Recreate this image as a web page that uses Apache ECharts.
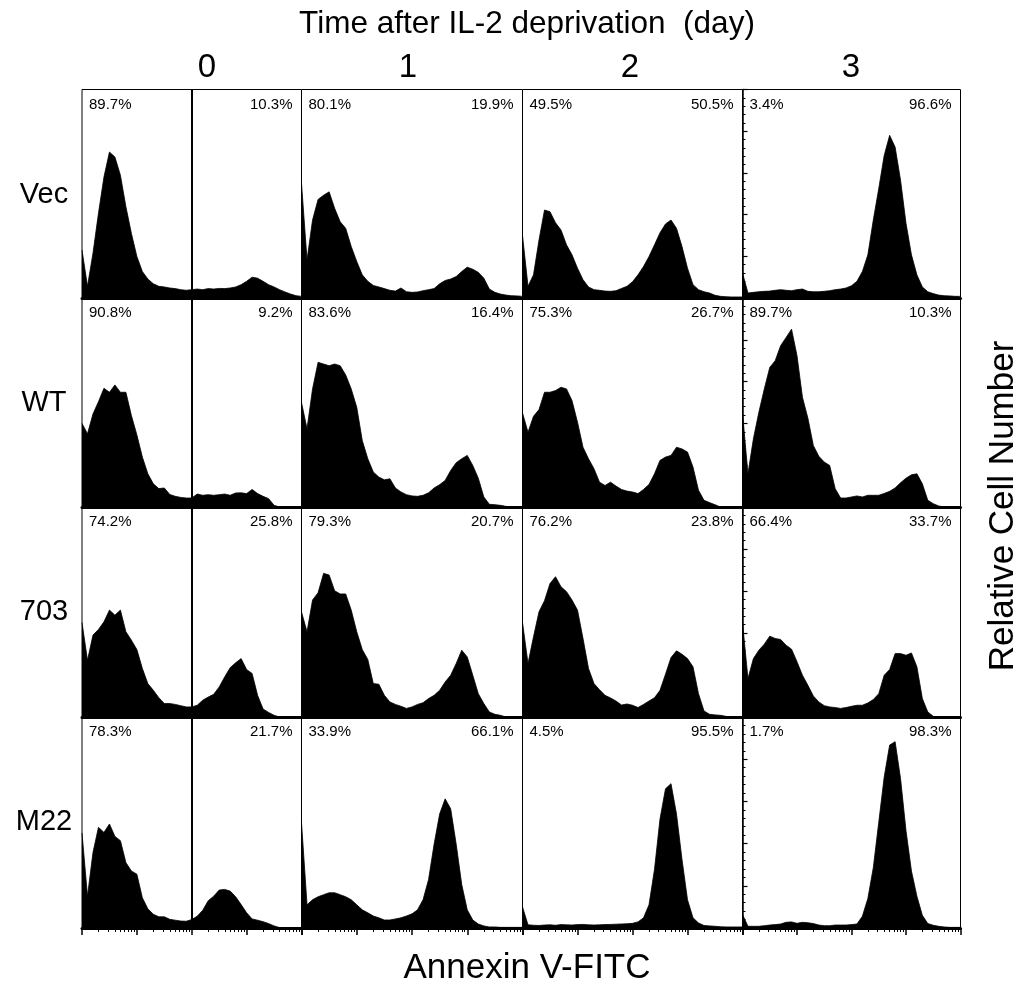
<!DOCTYPE html>
<html><head><meta charset="utf-8">
<script src="https://cdn.jsdelivr.net/npm/echarts@6/dist/echarts.min.js"></script>
<style>html,body{margin:0;padding:0;background:#fff}#c{width:1027px;height:994px}</style>
</head><body><div id="c"></div>
<script>
// ---- data (relative cell number, % of panel height), bins of 0.1 log10 decade from 10^0 to 10^4 ----
const rowNames = ['Vec', 'WT', '703', 'M22'];
const dayLabels = ['0', '1', '2', '3'];
const binStep = 0.1;

const vec0 = [23,5.6,21.5,40.6,58,70,67.6,58.9,43.8,31,19.9,12.7,9.1,6.8,5.6,5.3,4.8,4.5,4.0,3.7,4.0,4.3,4.0,4.5,4.3,4.6,4.5,4.8,5.3,6.4,8.0,10.0,9.5,8.0,6.4,5.3,4.0,2.9,1.9,1.1,0.8];
const vec1 = [55,18.3,37.4,47.3,49.3,50.9,43,36.6,33.4,24.7,17.5,11.1,8,6,5.3,4.5,3.7,3.3,4.8,3.0,2.7,2.9,3.5,4.0,4.5,6.8,8.4,9.1,10.3,12.7,14.8,13.8,12.3,9.5,4.3,2.7,1.9,1.4,1.1,1.0,0.8];
const vec2 = [30,5.6,11.1,27.8,42.2,41.4,36.1,32.6,25.5,20.7,14.3,8.8,5.3,4.0,3.7,3.3,3.2,3.5,4.6,5.6,7.8,11.1,15.1,19.9,25.5,31.3,35.5,37.4,33.4,24.7,14.3,6.4,4.0,3.0,2.4,1.3,0.8,0.6,0.5,0.5,0.5];
const vec3 = [12,2.4,2.7,3.0,3.2,3.3,3.7,4.0,3.7,3.5,4.0,4.3,3.2,3.0,3.0,3.2,3.5,4.0,4.3,4.8,5.9,8.0,12.7,20.7,37.4,52.5,68.4,78,72.4,56.5,35.8,20.7,11.1,5.3,3.0,2.1,1.4,1.1,1.0,0.8,0.8];

const wt0 = [40,35,44.5,50.4,56.8,54.9,58.4,54.9,54.9,43.8,34.5,23.9,15.9,11.1,8.8,9.1,6.0,5.1,4.6,4.3,4.3,6.2,5.6,5.9,5.6,5.9,6.2,5.6,6.7,6.8,6.4,8.4,6.4,5.1,4.0,0.8,0,0,0,0,0];
const wt1 = [50,37.4,56.5,69.2,68.4,67.6,68.4,67.6,63.2,56.5,47.7,31.8,23.1,16.7,14.3,13,13.5,9.1,7.2,5.9,5.3,5.1,5.6,6.8,9.1,10.7,12.7,17.5,21.2,23.1,24.7,19.9,13.8,4.8,1.3,1.1,0.8,0.3,0,0,0];
const wt2 = [45,35.8,43.4,46.6,54.9,54.9,55.7,57.3,56.5,50.9,40.6,28.6,23.1,18.3,11.9,10.3,11.9,10.0,8.4,7.6,7.2,6.4,8.4,10.8,15.9,22.3,23.9,24.7,28.6,27.8,26.3,19.1,8,3.2,2.1,1.1,0,0,0,0,0];
const wt3 = [45,15.9,32.6,45.3,56.5,66.8,70,77.2,81.1,85.1,72.4,52.5,42.5,29.4,24.3,21.5,19.9,8.8,4.3,4.3,4.8,5.3,4.8,5.6,5.6,5.6,6.5,7.5,9.1,11.6,13.8,15.4,15.9,11.1,3.2,1.6,0.5,0,0,0,0];

const m703_0 = [45,27,39,41.7,45.3,50.9,48.5,50.9,40.6,36.6,32.1,23.1,15.9,12.7,9.2,6.4,6.4,6.0,5.4,4.8,4.8,5.6,8.0,9.5,10.8,14.3,19.1,23.5,25.8,27.8,22.6,20.7,10.3,3.8,2.2,0.8,0,0,0,0,0];
const m703_1 = [50,40.6,55.7,59.2,68.4,67.6,60.1,58.6,58.6,50.9,40.6,32.1,27.4,15.9,15.6,10.3,7.2,6.0,5.1,4.1,4.8,6.0,6.8,8.8,10.3,12.7,16.7,19.9,25.5,31.8,28.6,19.9,11.1,6.4,2.4,1.3,0.8,0,0,0,0];
const m703_2 = [45,25.5,38.2,50.1,55.4,63.6,66.8,62,59.7,55.7,50.9,37.4,23.1,15.9,13,10.3,9.1,7.6,5.7,6.2,5.6,4.5,6.0,7.6,9.2,12.7,20.4,28.3,31.5,29.9,27.8,23.9,11.1,2.9,1.3,1.0,0.8,0.3,0,0,0];
const m703_3 = [45,18.3,27.8,31.8,34.7,38.5,37.4,36.9,34.2,32.3,26.3,19.9,15.1,10.0,7.2,5.4,4.8,4.5,4.1,4.5,5.1,5.6,5.6,6.7,8.3,11.1,19.9,22.6,30.2,30.2,29.4,30.5,23.9,8.8,2.4,0.3,0,0,0,0,0];

const m22_0 = [45,15.1,35.8,47.7,45.3,49.3,43.4,41.4,31,27,25.5,14.3,9.1,6.5,5.3,5.3,4.1,3.7,3.3,3.2,4.0,5.6,8.4,12.9,15.1,18,18.3,17.5,14.8,11.1,7.2,4.3,3.7,3.0,2.1,1.0,0.2,0,0,0,0];
const m22_1 = [50,11,13.4,14.8,15.8,16.7,16.7,15.8,14.8,13.4,11,8.6,7.2,5.7,4.8,3.8,3.8,4.3,4.8,5.7,6.7,8.6,13.4,23,39.7,54,61.2,56.5,39.7,20.6,8.6,3.8,1.9,1,0.5,0.5,0.3,0.3,0.3,0.3,0.3];
const m22_2 = [10,1.5,1.3,1.2,1.4,1.5,1.3,1.6,1.5,1.4,1.6,1.7,1.5,1.4,1.5,1.6,1.7,1.8,1.9,2.0,2.2,2.9,4.8,11,27.8,51.7,66,68.4,54,32.5,13.4,4.8,2.4,1.2,1,0.8,0.6,0.5,0.5,0.5,0.5];
const m22_3 = [6.4,0.8,0.8,0.8,1.1,1.4,1.6,1.9,2.7,2.9,2.2,2.7,2.5,2.1,1.4,1.1,1.1,1.4,1.4,1.4,1.6,1.9,5.6,14,28.6,50.1,71.6,86.7,88.3,70.8,46.1,27,15.1,6.0,2.1,1.3,0.8,0.5,0.3,0.3,0.3];

const histograms = [
  [vec0, vec1, vec2, vec3],
  [wt0, wt1, wt2, wt3],
  [m703_0, m703_1, m703_2, m703_3],
  [m22_0, m22_1, m22_2, m22_3]
];

const leftPct = [
  ['89.7%', '80.1%', '49.5%', '3.4%'],
  ['90.8%', '83.6%', '75.3%', '89.7%'],
  ['74.2%', '79.3%', '76.2%', '66.4%'],
  ['78.3%', '33.9%', '4.5%', '1.7%']
];
const rightPct = [
  ['10.3%', '19.9%', '50.5%', '96.6%'],
  ['9.2%', '16.4%', '26.7%', '10.3%'],
  ['25.8%', '20.7%', '23.8%', '33.7%'],
  ['21.7%', '66.1%', '95.5%', '98.3%']
];
const gateDecade = 2;          // marker gate on day-0 panels
const majorTickValues = [0, 1, 2, 3, 4];

// ---- layout ----
const colLeft = [82, 301.5, 522.5, 742.5];
const colWidth = [219.5, 221, 220, 218];
const rowTop = [89.5, 298, 507, 717];
const rowHeight = [208.5, 209, 210, 211];
const FONT = "'Liberation Sans', Arial, Helvetica, sans-serif";

const minorTickValues = [];
for (let k = 0; k < 4; k++) for (let m = 2; m <= 9; m++) minorTickValues.push(k + Math.log10(m));

const grids = [], xAxes = [], yAxes = [], series = [], graphics = [];
let gi = 0;
for (let r = 0; r < 4; r++) {
  for (let c = 0; c < 4; c++) {
    grids.push({ left: colLeft[c], top: rowTop[r], width: colWidth[c], height: rowHeight[r],
      show: true, borderColor: '#000', borderWidth: 1, backgroundColor: '#fff', containLabel: false });
    const xi = xAxes.length;
    xAxes.push({ gridIndex: gi, type: 'value', min: 0, max: 4, position: 'bottom',
      axisLine: { show: true, onZero: false, lineStyle: { color: '#000', width: 3 } },
      axisTick: { show: r === 3, customValues: majorTickValues, length: 7, lineStyle: { color: '#000', width: 1.5 } },
      axisLabel: { show: false }, splitLine: { show: false } });
    if (r === 3) {
      xAxes.push({ gridIndex: gi, type: 'value', min: 0, max: 4, position: 'bottom',
        axisLine: { show: false },
        axisTick: { show: true, customValues: minorTickValues, length: 4, lineStyle: { color: '#000', width: 1 } },
        axisLabel: { show: false }, splitLine: { show: false } });
    }
    yAxes.push({ gridIndex: gi, type: 'value', min: 0, max: 100, interval: 20,
      position: c === 3 ? 'right' : 'left',
      axisLine: { show: c === 3, lineStyle: { color: '#000', width: 1.5 } },
      axisTick: { show: c === 3, length: 5, lineStyle: { color: '#000', width: 1.2 } },
      minorTick: { show: c === 3, splitNumber: 5, length: 3, lineStyle: { color: '#000', width: 1 } },
      axisLabel: { show: false }, splitLine: { show: false } });
    const vals = histograms[r][c];
    const s = {
      type: 'line', xAxisIndex: xi, yAxisIndex: gi, silent: true, animation: false,
      data: vals.map((v, i) => [i * binStep, v]),
      symbol: 'none', lineStyle: { color: '#000', width: 0.8 },
      areaStyle: { color: '#000', opacity: 1 }
    };
    if (c === 0) {
      s.markLine = { silent: true, symbol: 'none', label: { show: false },
        lineStyle: { color: '#000', width: 2, type: 'solid' },
        data: [{ xAxis: gateDecade }] };
    }
    series.push(s);
    graphics.push({ type: 'text', x: colLeft[c] + 7, y: rowTop[r] + 15,
      style: { text: leftPct[r][c], font: '15px ' + FONT, fill: '#000', textAlign: 'left', textVerticalAlign: 'middle' } });
    graphics.push({ type: 'text', x: colLeft[c] + colWidth[c] - 9, y: rowTop[r] + 15,
      style: { text: rightPct[r][c], font: '15px ' + FONT, fill: '#000', textAlign: 'right', textVerticalAlign: 'middle' } });
    gi++;
  }
}

// big texts
graphics.push({ type: 'text', x: 527, y: 24,
  style: { text: 'Time after IL-2 deprivation  (day)', font: '31.5px ' + FONT, fill: '#000', textAlign: 'center', textVerticalAlign: 'middle' } });
const dayX = [207, 408, 630, 851];
dayLabels.forEach((d, i) => graphics.push({ type: 'text', x: dayX[i], y: 68,
  style: { text: d, font: '33px ' + FONT, fill: '#000', textAlign: 'center', textVerticalAlign: 'middle' } }));
const rowY = [195, 403, 612, 822];
rowNames.forEach((n, i) => graphics.push({ type: 'text', x: 44, y: rowY[i],
  style: { text: n, font: '29px ' + FONT, fill: '#000', textAlign: 'center', textVerticalAlign: 'middle' } }));
graphics.push({ type: 'text', x: 1003, y: 506, rotation: Math.PI / 2,
  style: { text: 'Relative Cell Number', font: '35px ' + FONT, fill: '#000', textAlign: 'center', textVerticalAlign: 'middle' } });
graphics.push({ type: 'text', x: 527, y: 968,
  style: { text: 'Annexin V-FITC', font: '35px ' + FONT, fill: '#000', textAlign: 'center', textVerticalAlign: 'middle' } });

const chart = echarts.init(document.getElementById('c'), null, { renderer: 'canvas' });
chart.setOption({
  animation: false,
  backgroundColor: '#fff',
  grid: grids, xAxis: xAxes, yAxis: yAxes, series: series,
  graphic: { elements: graphics }
});
</script></body></html>
